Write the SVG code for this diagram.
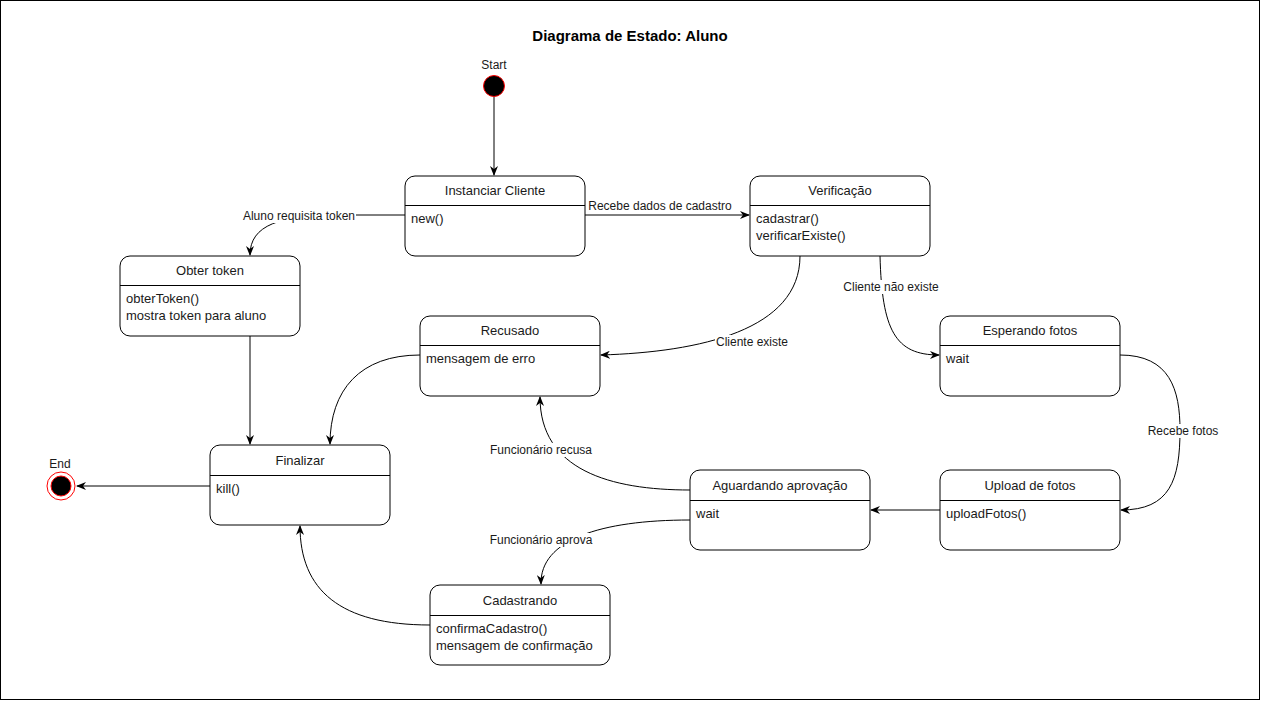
<svg xmlns="http://www.w3.org/2000/svg" width="1261" height="701" viewBox="0 0 1261 701">
<style>
.box{fill:#fff;stroke:#000;stroke-width:1}
.div{stroke:#000;stroke-width:1}
.t{font-family:"Liberation Sans",Arial,sans-serif;font-size:12px;fill:#1a1a1a}
.n{font-size:13px}
.c{text-anchor:middle}
.e{fill:none;stroke:#000;stroke-width:1;marker-end:url(#arr)}
.lb{fill:#fff}
</style>
<defs>
<marker id="arr" viewBox="0 0 10 8" refX="9" refY="4" markerWidth="10" markerHeight="8" markerUnits="userSpaceOnUse" orient="auto">
<path d="M0,0 L10,4 L0,8 L3,4 z" fill="#000"/>
</marker>
</defs>
<rect x="0.5" y="0.5" width="1259" height="699" fill="#fff" stroke="#000" stroke-width="1"/>
<text x="630" y="41" class="t c" style="font-weight:bold;font-size:15px;fill:#000">Diagrama de Estado: Aluno</text>

<g id="connectors">
<path class="e" d="M494,96 L494,175"/>
<path class="e" d="M585,215 L749,215"/>
<path class="e" d="M405,215 L340,215 C280,215 250,225 250,255"/>
<path class="e" d="M250,336 L250,444"/>
<path class="e" d="M800,256 C800,330 700,352 601,355"/>
<path class="e" d="M880,256 C882,330 895,355 939,355"/>
<path class="e" d="M1120,355 C1170,355 1180,390 1180,430 C1180,480 1170,510 1121,510"/>
<path class="e" d="M940,510 L871,510"/>
<path class="e" d="M690,490 C610,490 540,470 540,397"/>
<path class="e" d="M690,520 C600,520 540,540 541,584"/>
<path class="e" d="M420,355 C360,355 330,390 330,444"/>
<path class="e" d="M430,625 C340,625 300,590 300,526"/>
<path class="e" d="M210,486 L77,486"/>
<rect class="lb" x="586" y="199" width="148" height="14"/>
<text x="660" y="210" class="t c">Recebe dados de cadastro</text>
<rect class="lb" x="243" y="209" width="113" height="14"/>
<text x="299" y="220" class="t c">Aluno requisita token</text>
<rect class="lb" x="715" y="335" width="75" height="14"/>
<text x="752" y="346" class="t c">Cliente existe</text>
<rect class="lb" x="843" y="280" width="96" height="14"/>
<text x="891" y="291" class="t c">Cliente não existe</text>
<rect class="lb" x="1147" y="424" width="72" height="14"/>
<text x="1183" y="435" class="t c">Recebe fotos</text>
<rect class="lb" x="490" y="443" width="102" height="14"/>
<text x="541" y="454" class="t c">Funcionário recusa</text>
<rect class="lb" x="490" y="533" width="103" height="14"/>
<text x="541" y="544" class="t c">Funcionário aprova</text>
</g>

<g id="start">
<text x="494" y="69" class="t c">Start</text>
<circle cx="494" cy="86" r="10.5" fill="#000" stroke="#f00" stroke-width="1"/>
</g>
<g id="end">
<text x="60" y="468" class="t c">End</text>
<circle cx="61" cy="486" r="14" fill="#fff" stroke="#f00" stroke-width="1"/>
<circle cx="61" cy="486" r="10" fill="#000" stroke="#f00" stroke-width="1"/>
</g>

<g id="instanciar">
<rect class="box" x="405" y="176" width="180" height="80" rx="10"/>
<line class="div" x1="405" y1="205.5" x2="585" y2="205.5"/>
<text x="495" y="195" class="t n c">Instanciar Cliente</text>
<text x="411" y="223" class="t n">new()</text>
</g>
<g id="verificacao">
<rect class="box" x="750" y="176" width="180" height="80" rx="10"/>
<line class="div" x1="750" y1="205.5" x2="930" y2="205.5"/>
<text x="840" y="195" class="t n c">Verificação</text>
<text x="756" y="223" class="t n">cadastrar()</text>
<text x="756" y="240" class="t n">verificarExiste()</text>
</g>
<g id="obter">
<rect class="box" x="120" y="256" width="180" height="80" rx="10"/>
<line class="div" x1="120" y1="285.5" x2="300" y2="285.5"/>
<text x="210" y="275" class="t n c">Obter token</text>
<text x="126" y="303" class="t n">obterToken()</text>
<text x="126" y="320" class="t n">mostra token para aluno</text>
</g>
<g id="recusado">
<rect class="box" x="420" y="316" width="180" height="80" rx="10"/>
<line class="div" x1="420" y1="345.5" x2="600" y2="345.5"/>
<text x="510" y="335" class="t n c">Recusado</text>
<text x="426" y="363" class="t n">mensagem de erro</text>
</g>
<g id="esperando">
<rect class="box" x="940" y="316" width="180" height="80" rx="10"/>
<line class="div" x1="940" y1="345.5" x2="1120" y2="345.5"/>
<text x="1030" y="335" class="t n c">Esperando fotos</text>
<text x="946" y="363" class="t n">wait</text>
</g>
<g id="finalizar">
<rect class="box" x="210" y="445" width="180" height="80" rx="10"/>
<line class="div" x1="210" y1="475.5" x2="390" y2="475.5"/>
<text x="300" y="465" class="t n c">Finalizar</text>
<text x="216" y="493" class="t n">kill()</text>
</g>
<g id="aguardando">
<rect class="box" x="690" y="470" width="180" height="80" rx="10"/>
<line class="div" x1="690" y1="500.5" x2="870" y2="500.5"/>
<text x="780" y="490" class="t n c">Aguardando aprovação</text>
<text x="696" y="518" class="t n">wait</text>
</g>
<g id="upload">
<rect class="box" x="940" y="470" width="180" height="80" rx="10"/>
<line class="div" x1="940" y1="500.5" x2="1120" y2="500.5"/>
<text x="1030" y="490" class="t n c">Upload de fotos</text>
<text x="946" y="518" class="t n">uploadFotos()</text>
</g>
<g id="cadastrando">
<rect class="box" x="430" y="585" width="180" height="80" rx="10"/>
<line class="div" x1="430" y1="615.5" x2="610" y2="615.5"/>
<text x="520" y="605" class="t n c">Cadastrando</text>
<text x="436" y="633" class="t n">confirmaCadastro()</text>
<text x="436" y="650" class="t n">mensagem de confirmação</text>
</g>
</svg>
